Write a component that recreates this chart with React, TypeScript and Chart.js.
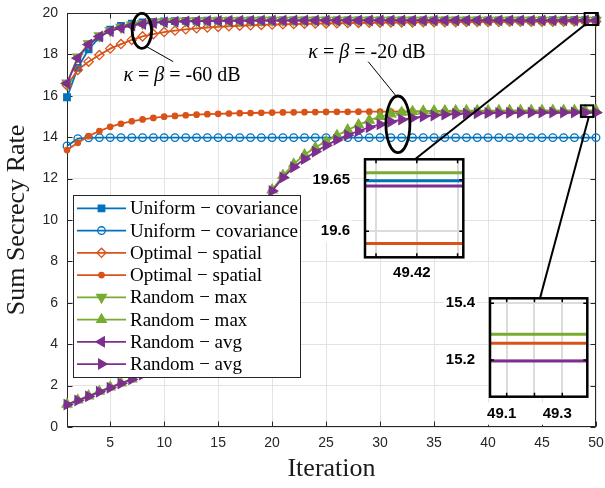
import React, { useEffect, useRef } from 'react';
import { Chart, registerables } from 'chart.js';

Chart.register(...registerables);

// ---------------- data ----------------
const iterations = [
  1, 2, 3, 4, 5, 6, 7, 8, 9, 10, 11, 12, 13, 14, 15, 16, 17, 18, 19, 20,
  21, 22, 23, 24, 25, 26, 27, 28, 29, 30, 31, 32, 33, 34, 35, 36, 37, 38, 39, 40,
  41, 42, 43, 44, 45, 46, 47, 48, 49, 50,
];

// kappa = beta = -60 dB
const uniformCov60 = [
  15.93, 17.35, 18.25, 18.82, 19.2, 19.38, 19.48, 19.54, 19.575, 19.595,
  19.607, 19.615, 19.621, 19.626, 19.63, 19.633, 19.635, 19.637, 19.639, 19.64,
  19.641, 19.642, 19.643, 19.643, 19.644, 19.644, 19.645, 19.645, 19.645, 19.646,
  19.646, 19.646, 19.646, 19.647, 19.647, 19.647, 19.647, 19.647, 19.648, 19.648,
  19.648, 19.648, 19.648, 19.648, 19.649, 19.649, 19.649, 19.649, 19.649, 19.649,
];
// kappa = beta = -20 dB
const uniformCov20 = [
  13.58, 13.93, 13.97, 13.98, 13.98, 13.98, 13.98, 13.98, 13.98, 13.98,
  13.98, 13.98, 13.98, 13.98, 13.98, 13.98, 13.98, 13.98, 13.98, 13.98,
  13.98, 13.98, 13.98, 13.98, 13.98, 13.98, 13.98, 13.98, 13.98, 13.98,
  13.98, 13.98, 13.98, 13.98, 13.98, 13.98, 13.98, 13.98, 13.98, 13.98,
  13.98, 13.98, 13.98, 13.98, 13.98, 13.98, 13.98, 13.98, 13.98, 13.98,
];
const optimalSpatial60 = [
  16.5, 17.25, 17.65, 17.97, 18.28, 18.5, 18.7, 18.87, 18.98, 19.08,
  19.15, 19.21, 19.26, 19.3, 19.33, 19.36, 19.385, 19.405, 19.425, 19.44,
  19.455, 19.467, 19.478, 19.488, 19.497, 19.505, 19.512, 19.519, 19.525, 19.531,
  19.536, 19.541, 19.545, 19.549, 19.553, 19.557, 19.56, 19.563, 19.566, 19.569,
  19.572, 19.574, 19.576, 19.578, 19.58, 19.582, 19.584, 19.586, 19.588, 19.588,
];
const optimalSpatial20 = [
  13.38, 13.73, 14.05, 14.3, 14.5, 14.65, 14.77, 14.86, 14.93, 14.99,
  15.03, 15.06, 15.09, 15.11, 15.13, 15.145, 15.16, 15.17, 15.18, 15.19,
  15.197, 15.204, 15.21, 15.215, 15.22, 15.224, 15.228, 15.231, 15.234, 15.237,
  15.239, 15.241, 15.243, 15.245, 15.246, 15.248, 15.249, 15.25, 15.251, 15.252,
  15.253, 15.254, 15.255, 15.256, 15.257, 15.257, 15.258, 15.258, 15.259, 15.259,
];
const randomMax60 = [
  16.62, 17.88, 18.52, 18.9, 19.15, 19.31, 19.42, 19.5, 19.55, 19.58,
  19.6, 19.615, 19.625, 19.632, 19.637, 19.641, 19.644, 19.646, 19.648, 19.649,
  19.65, 19.651, 19.652, 19.652, 19.653, 19.653, 19.654, 19.654, 19.654, 19.655,
  19.655, 19.655, 19.655, 19.656, 19.656, 19.656, 19.656, 19.656, 19.656, 19.657,
  19.657, 19.657, 19.657, 19.657, 19.657, 19.657, 19.657, 19.657, 19.657, 19.657,
];
const randomMax20 = [
  1.1, 1.3, 1.5, 1.72, 1.93, 2.12, 2.32, 2.57, 2.87, 3.25,
  3.72, 4.29, 4.97, 5.77, 6.67, 7.65, 8.67, 9.7, 10.65, 11.45,
  12.15, 12.7, 13.15, 13.5, 13.8, 14.08, 14.35, 14.6, 14.82, 15.0,
  15.12, 15.2, 15.24, 15.26, 15.27, 15.276, 15.28, 15.283, 15.285, 15.287,
  15.288, 15.289, 15.29, 15.29, 15.291, 15.291, 15.291, 15.291, 15.291, 15.291,
];
const randomAvg60 = [
  16.6, 17.82, 18.48, 18.86, 19.12, 19.28, 19.39, 19.47, 19.52, 19.555,
  19.578, 19.594, 19.605, 19.613, 19.619, 19.624, 19.628, 19.631, 19.633, 19.635,
  19.636, 19.637, 19.638, 19.639, 19.64, 19.64, 19.641, 19.641, 19.642, 19.642,
  19.642, 19.643, 19.643, 19.643, 19.643, 19.643, 19.644, 19.644, 19.644, 19.644,
  19.644, 19.644, 19.644, 19.644, 19.644, 19.644, 19.644, 19.644, 19.644, 19.644,
];
const randomAvg20 = [
  1.08, 1.28, 1.48, 1.7, 1.9, 2.1, 2.3, 2.54, 2.83, 3.2,
  3.66, 4.22, 4.9, 5.7, 6.6, 7.58, 8.6, 9.62, 10.58, 11.4,
  12.05, 12.55, 12.95, 13.3, 13.6, 13.87, 14.1, 14.3, 14.48, 14.62,
  14.75, 14.85, 14.93, 15.0, 15.05, 15.09, 15.12, 15.14, 15.155, 15.165,
  15.173, 15.179, 15.184, 15.188, 15.191, 15.193, 15.194, 15.195, 15.196, 15.196,
];

const seriesLabels = [
  'Uniform \u2212 covariance',
  'Uniform \u2212 covariance',
  'Optimal \u2212 spatial',
  'Optimal \u2212 spatial',
  'Random \u2212 max',
  'Random \u2212 max',
  'Random \u2212 avg',
  'Random \u2212 avg',
];

const xTicks = [5, 10, 15, 20, 25, 30, 35, 40, 45, 50];
const yTicks = [0, 2, 4, 6, 8, 10, 12, 14, 16, 18, 20];
const xTitle = 'Iteration';
const yTitle = 'Sum Secrecy Rate';

const inset1XTicks = [49.41, 49.42, 49.43];
const inset1XTickLabels = ['', '49.42', ''];
const inset1YTicks = [19.6, 19.65];
const inset1YTickLabels = ['19.6', '19.65'];
const inset2XTicks = [49.1, 49.2, 49.3];
const inset2XTickLabels = ['49.1', '', '49.3'];
const inset2YTicks = [15.2, 15.4];
const inset2YTickLabels = ['15.2', '15.4'];

const annotationTexts = ['-60 dB', '-20 dB'];

// ---------------- styles ----------------
const BLUE = '#0072BD';
const ORANGE = '#D95319';
const GREEN = '#77AC30';
const PURPLE = '#7E2F8E';
const NONE = 'rgba(0,0,0,0)';

const seriesValues = [
  uniformCov60, uniformCov20, optimalSpatial60, optimalSpatial20,
  randomMax60, randomMax20, randomAvg60, randomAvg20,
];
const seriesStyles = [
  { color: BLUE, shape: 'rect', rot: 0, r: 4.6, fill: BLUE },
  { color: BLUE, shape: 'circle', rot: 0, r: 3.8, fill: NONE },
  { color: ORANGE, shape: 'rectRot', rot: 0, r: 4.6, fill: NONE },
  { color: ORANGE, shape: 'circle', rot: 0, r: 2.7, fill: ORANGE },
  { color: GREEN, shape: 'triangle', rot: 180, r: 5.6, fill: GREEN },
  { color: GREEN, shape: 'triangle', rot: 0, r: 5.6, fill: GREEN },
  { color: PURPLE, shape: 'triangle', rot: 270, r: 5.6, fill: PURPLE },
  { color: PURPLE, shape: 'triangle', rot: 90, r: 5.6, fill: PURPLE },
];

// inset boxes in page pixels (layout)
const INSET1 = { cLeft: 290, cTop: 150, cW: 180, cH: 140, left: 365, top: 159.3, right: 463.3, bottom: 257.3,
  xMin: 49.4073, xMax: 49.4314, yMin: 19.5746, yMax: 19.670,
  xt: inset1XTicks, xl: inset1XTickLabels, yt: inset1YTicks, yl: inset1YTickLabels, xPad: 7, yPad: 15 };
const INSET2 = { cLeft: 420, cTop: 285, cW: 180, cH: 140, left: 490, top: 298.3, right: 587.3, bottom: 396.7,
  xMin: 49.040, xMax: 49.390, yMin: 15.0705, yMax: 15.4176,
  xt: inset2XTicks, xl: inset2XTickLabels, yt: inset2YTicks, yl: inset2YTickLabels, xPad: 8, yPad: 15 };

function zeroXPad(s: any) { s.paddingLeft = 0; s.paddingRight = 0; }
function zeroYPad(s: any) { s.paddingTop = 0; s.paddingBottom = 0; }

function drawMarker(ctx: any, shape: string, rotDeg: number, x: number, y: number, r: number, fill: string, stroke: string, lw: number) {
  ctx.save();
  ctx.beginPath();
  let rad = (rotDeg * Math.PI) / 180;
  if (shape === 'circle') {
    ctx.arc(x, y, r, 0, Math.PI * 2);
  } else if (shape === 'rect') {
    const s = Math.SQRT1_2 * r;
    ctx.rect(x - s, y - s, 2 * s, 2 * s);
  } else if (shape === 'rectRot') {
    ctx.moveTo(x - r, y);
    ctx.lineTo(x, y - r);
    ctx.lineTo(x + r, y);
    ctx.lineTo(x, y + r);
    ctx.closePath();
  } else {
    ctx.moveTo(x + Math.sin(rad) * r, y - Math.cos(rad) * r);
    rad += (2 * Math.PI) / 3;
    ctx.lineTo(x + Math.sin(rad) * r, y - Math.cos(rad) * r);
    rad += (2 * Math.PI) / 3;
    ctx.lineTo(x + Math.sin(rad) * r, y - Math.cos(rad) * r);
    ctx.closePath();
  }
  ctx.fillStyle = fill;
  ctx.fill();
  ctx.lineWidth = lw;
  ctx.strokeStyle = stroke;
  ctx.stroke();
  ctx.restore();
}

function drawMathLabel(ctx: any, cx: number, cy: number, tail: string) {
  const size = 20;
  const up = `${size}px "Liberation Serif"`;
  const it = `italic ${size}px "Liberation Serif"`;
  const parts: [string, string][] = [['\u03BA', it], [' = ', up], ['\u03B2', it], [' = ' + tail, up]];
  let total = 0;
  parts.forEach(([t, f]) => { ctx.font = f; total += ctx.measureText(t).width; });
  let x = cx - total / 2;
  ctx.fillStyle = '#000';
  ctx.textBaseline = 'middle';
  ctx.textAlign = 'left';
  parts.forEach(([t, f]) => { ctx.font = f; ctx.fillText(t, x, cy); x += ctx.measureText(t).width; });
}

const mainPlugin = {
  id: 'mainDecor',
  beforeDatasetsDraw(chart: any) {
    const { ctx, chartArea: a } = chart;
    const xs = chart.scales.x;
    const ys = chart.scales.y;
    ctx.save();
    ctx.strokeStyle = '#262626';
    ctx.lineWidth = 1;
    const L = Math.round(a.left) + 0.5;
    const R = Math.round(a.right) - 0.5;
    const T = Math.round(a.top) + 0.5;
    const B = Math.round(a.bottom) - 0.5;
    ctx.strokeRect(L, T, R - L, B - T);
    ctx.beginPath();
    const tl = 5;
    yTicks.forEach((v) => {
      const p = Math.round(ys.getPixelForValue(v)) + 0.5;
      ctx.moveTo(L, p); ctx.lineTo(L + tl, p);
      ctx.moveTo(R, p); ctx.lineTo(R - tl, p);
    });
    xTicks.forEach((v) => {
      const p = Math.round(xs.getPixelForValue(v)) + 0.5;
      ctx.moveTo(p, B); ctx.lineTo(p, B - tl);
      ctx.moveTo(p, T); ctx.lineTo(p, T + tl);
    });
    ctx.stroke();
    ctx.restore();
  },
  afterDatasetsDraw(chart: any) {
    const { ctx, chartArea: a } = chart;
    const xs = chart.scales.x;
    const ys = chart.scales.y;
    const px = (v: number) => xs.getPixelForValue(v);
    const py = (v: number) => ys.getPixelForValue(v);
    ctx.save();

    // ellipses and their labels
    const ellipses = [
      { cx: 7.94, cy: 19.14, rx: 0.9, ry: 0.845, l0: [8.4, 18.37], l1: [10.84, 17.65], tx: 11.65, ty: 16.96, text: annotationTexts[0] },
      { cx: 31.65, cy: 14.62, rx: 1.11, ry: 1.37, l0: [31.53, 15.96], l1: [28.9, 17.65], tx: 28.78, ty: 18.07, text: annotationTexts[1] },
    ];
    ellipses.forEach((e) => {
      ctx.beginPath();
      ctx.lineWidth = 2.8;
      ctx.strokeStyle = '#000';
      ctx.ellipse(px(e.cx), py(e.cy), Math.abs(px(e.cx + e.rx) - px(e.cx)), Math.abs(py(e.cy + e.ry) - py(e.cy)), 0, 0, Math.PI * 2);
      ctx.stroke();
      ctx.beginPath();
      ctx.lineWidth = 1;
      ctx.moveTo(px(e.l0[0]), py(e.l0[1]));
      ctx.lineTo(px(e.l1[0]), py(e.l1[1]));
      ctx.stroke();
      drawMathLabel(ctx, px(e.tx), py(e.ty), e.text);
    });

    // zoom rectangles and connectors to insets
    const zooms = [
      { x0: 48.95, x1: 50.17, y0: 19.42, y1: 20.0, from: [48.95, 19.42], box: INSET1 },
      { x0: 48.6, x1: 49.75, y0: 14.98, y1: 15.54, from: [49.33, 14.98], box: INSET2 },
    ];
    zooms.forEach((z) => {
      ctx.lineWidth = 2;
      ctx.strokeStyle = '#000';
      ctx.strokeRect(px(z.x0), py(z.y1), px(z.x1) - px(z.x0), py(z.y0) - py(z.y1));
      ctx.beginPath();
      ctx.moveTo(px(z.from[0]), py(z.from[1]));
      ctx.lineTo(z.box.left + 50, z.box.top);
      ctx.stroke();
    });

    // legend
    const left = a.left + 6;
    const top = a.top + 182;
    const w = 227;
    const h = 182;
    ctx.fillStyle = '#fff';
    ctx.fillRect(left, top, w, h);
    ctx.strokeStyle = '#262626';
    ctx.lineWidth = 1;
    ctx.strokeRect(left + 0.5, top + 0.5, w, h);
    chart.data.datasets.forEach((ds: any, i: number) => {
      const cy = top + 13.3 + i * 22.25;
      ctx.strokeStyle = ds.borderColor;
      ctx.lineWidth = ds.borderWidth;
      ctx.beginPath();
      ctx.moveTo(left + 4, cy);
      ctx.lineTo(left + 53, cy);
      ctx.stroke();
      drawMarker(ctx, ds.pointStyle, ds.pointRotation, left + 28.5, cy, ds.pointRadius, ds.pointBackgroundColor, ds.borderColor, ds.pointBorderWidth);
      ctx.fillStyle = '#000';
      ctx.font = '19px "Liberation Serif"';
      ctx.textBaseline = 'middle';
      ctx.textAlign = 'left';
      ctx.fillText(ds.label, left + 57, cy + 1);
    });
    ctx.restore();
  },
};

const insetPlugin = {
  id: 'insetFrame',
  beforeDraw(chart: any) {
    const { ctx, chartArea: a } = chart;
    ctx.save();
    ctx.fillStyle = '#fff';
    ctx.fillRect(a.left, a.top, a.right - a.left, a.bottom - a.top);
    ctx.restore();
  },
  afterDraw(chart: any) {
    const { ctx, chartArea: a } = chart;
    const xs = chart.scales.x;
    const ys = chart.scales.y;
    ctx.save();
    ctx.strokeStyle = '#000';
    ctx.lineWidth = 2.5;
    ctx.strokeRect(a.left, a.top, a.right - a.left, a.bottom - a.top);
    ctx.lineWidth = 1.5;
    ctx.beginPath();
    const tl = 4;
    xs.ticks.forEach((t: any) => {
      const p = xs.getPixelForValue(t.value);
      ctx.moveTo(p, a.top); ctx.lineTo(p, a.top + tl);
      ctx.moveTo(p, a.bottom); ctx.lineTo(p, a.bottom - tl);
    });
    ys.ticks.forEach((t: any) => {
      const p = ys.getPixelForValue(t.value);
      ctx.moveTo(a.left, p); ctx.lineTo(a.left + tl, p);
      ctx.moveTo(a.right, p); ctx.lineTo(a.right - tl, p);
    });
    ctx.stroke();
    ctx.restore();
  },
};

function mainConfig(): any {
  return {
    type: 'line',
    data: {
      datasets: seriesValues.map((vals, i) => {
        const s = seriesStyles[i];
        return {
          label: seriesLabels[i],
          data: iterations.map((x, k) => ({ x, y: vals[k] })),
          borderColor: s.color,
          backgroundColor: s.color,
          borderWidth: 1.8,
          pointStyle: s.shape,
          pointRotation: s.rot,
          pointRadius: s.r,
          pointBackgroundColor: s.fill,
          pointBorderColor: s.color,
          pointBorderWidth: 1.3,
          tension: 0,
          fill: false,
          clip: false,
          order: 8 - i,
        };
      }),
    },
    options: {
      responsive: false,
      animation: false,
      devicePixelRatio: 1,
      events: [],
      layout: { padding: { top: 13, right: 9, left: 0, bottom: 0 } },
      plugins: { legend: { display: false }, tooltip: { enabled: false } },
      scales: {
        x: {
          type: 'linear',
          min: 1,
          max: 50,
          afterBuildTicks: (s: any) => { s.ticks = xTicks.map((v) => ({ value: v })); },
          afterFit: (s: any) => { s.height = 61; zeroXPad(s); },
          ticks: {
            autoSkip: false,
            maxRotation: 0,
            padding: 8,
            color: '#262626',
            font: { family: 'Liberation Sans', size: 14 },
            callback: (_v: any, i: number) => String(xTicks[i]),
          },
          grid: { color: '#e3e3e3', lineWidth: 1, drawTicks: false },
          border: { display: false },
          title: {
            display: true,
            text: xTitle,
            color: '#1a1a1a',
            font: { family: 'Liberation Serif', size: 26 },
            padding: { top: 0, bottom: 3 },
          },
        },
        y: {
          type: 'linear',
          min: 0,
          max: 20,
          afterBuildTicks: (s: any) => { s.ticks = yTicks.map((v) => ({ value: v })); },
          afterFit: (s: any) => { s.width = 67; zeroYPad(s); },
          ticks: {
            autoSkip: false,
            padding: 9,
            color: '#262626',
            font: { family: 'Liberation Sans', size: 14 },
            callback: (_v: any, i: number) => String(yTicks[i]),
          },
          grid: { color: '#e3e3e3', lineWidth: 1, drawTicks: false },
          border: { display: false },
          title: {
            display: true,
            text: yTitle,
            color: '#1a1a1a',
            font: { family: 'Liberation Serif', size: 26 },
            padding: { top: 2, bottom: 0 },
          },
        },
      },
    },
    plugins: [mainPlugin],
  };
}

function insetConfig(b: any): any {
  const tickFont = { family: 'Liberation Sans', size: 15, weight: 'bold' };
  return {
    type: 'line',
    data: {
      datasets: seriesValues.map((vals, i) => ({
        label: seriesLabels[i],
        data: iterations.map((x, k) => ({ x, y: vals[k] })),
        borderColor: seriesStyles[i].color,
        borderWidth: 3,
        pointRadius: 0,
        tension: 0,
        fill: false,
        clip: 0,
        order: 8 - i,
      })),
    },
    options: {
      responsive: false,
      animation: false,
      devicePixelRatio: 1,
      events: [],
      layout: { padding: { left: 0, top: b.top - b.cTop, right: b.cLeft + b.cW - b.right, bottom: 0 } },
      plugins: { legend: { display: false }, tooltip: { enabled: false } },
      scales: {
        x: {
          type: 'linear',
          min: b.xMin,
          max: b.xMax,
          afterBuildTicks: (s: any) => { s.ticks = b.xt.map((v: number) => ({ value: v })); },
          afterFit: (s: any) => { s.height = b.cTop + b.cH - b.bottom; zeroXPad(s); },
          ticks: {
            autoSkip: false,
            maxRotation: 0,
            padding: b.xPad,
            labelOffset: -5,
            color: '#000',
            font: tickFont,
            showLabelBackdrop: true,
            backdropColor: '#fff',
            backdropPadding: 2,
            callback: (_v: any, i: number) => b.xl[i],
          },
          grid: { color: '#dcdcdc', lineWidth: 2, drawTicks: false },
          border: { display: false },
        },
        y: {
          type: 'linear',
          min: b.yMin,
          max: b.yMax,
          afterBuildTicks: (s: any) => { s.ticks = b.yt.map((v: number) => ({ value: v })); },
          afterFit: (s: any) => { s.width = b.left - b.cLeft; zeroYPad(s); },
          ticks: {
            autoSkip: false,
            padding: b.yPad,
            color: '#000',
            font: tickFont,
            showLabelBackdrop: true,
            backdropColor: '#fff',
            backdropPadding: 2,
            callback: (_v: any, i: number) => b.yl[i],
          },
          grid: { color: '#dcdcdc', lineWidth: 2, drawTicks: false },
          border: { display: false },
        },
      },
    },
    plugins: [insetPlugin],
  };
}

export default function App() {
  const mainRef = useRef<HTMLCanvasElement>(null);
  const inset1Ref = useRef<HTMLCanvasElement>(null);
  const inset2Ref = useRef<HTMLCanvasElement>(null);

  useEffect(() => {
    const charts: Chart[] = [];
    if (mainRef.current) charts.push(new Chart(mainRef.current, mainConfig()));
    if (inset1Ref.current) charts.push(new Chart(inset1Ref.current, insetConfig(INSET1)));
    if (inset2Ref.current) charts.push(new Chart(inset2Ref.current, insetConfig(INSET2)));
    return () => charts.forEach((c) => c.destroy());
  }, []);

  return (
    <div style={{ position: 'fixed', left: 0, top: 0, width: 605, height: 488, background: '#fff', overflow: 'hidden' }}>
      <canvas ref={mainRef} width={605} height={488} style={{ position: 'absolute', left: 0, top: 0 }} />
      <canvas ref={inset1Ref} width={INSET1.cW} height={INSET1.cH} style={{ position: 'absolute', left: INSET1.cLeft, top: INSET1.cTop }} />
      <canvas ref={inset2Ref} width={INSET2.cW} height={INSET2.cH} style={{ position: 'absolute', left: INSET2.cLeft, top: INSET2.cTop }} />
    </div>
  );
}
